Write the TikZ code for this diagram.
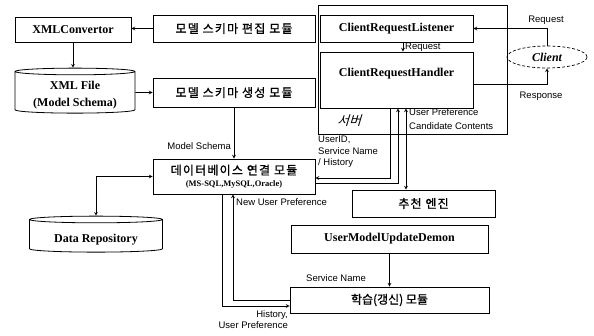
\documentclass[tikz,border=0pt]{standalone}
\usepackage{fontspec}
\setmainfont{Liberation Serif}
\setsansfont{Liberation Sans}
\newfontfamily\kr[LetterSpace=10, FakeBold=1.2]{Noto Sans CJK KR}
\newfontfamily\krtight[FakeBold=1.2]{Noto Sans CJK KR}
\newfontfamily\krsl[FakeSlant=0.3]{Noto Sans CJK KR}
\usetikzlibrary{shapes,arrows,positioning}

\begin{document}
\begin{tikzpicture}[x=1pt, y=-1pt,
    box/.style={rectangle, draw, line width=0.8pt, inner sep=0pt, font=\fontsize{12}{14}\selectfont\bfseries},
    kbox/.style={rectangle, draw, line width=0.8pt, inner sep=0pt, align=center, font=\fontsize{12}{14}\selectfont\kr},
    dbcyl/.style={cylinder, shape border rotate=90, aspect=0.08, draw, line width=0.8pt, inner sep=0pt, align=center, font=\fontsize{12}{17}\selectfont\bfseries},
    lbl/.style={inner sep=0pt, font=\fontsize{9.5}{11.5}\selectfont\sffamily},
    arrow/.style={->, >=stealth, line width=0.7pt}
]
\useasboundingbox (0,0) rectangle (594,335);

\node[box, minimum width=116pt, minimum height=25pt] (conv) at (73,29.5) {XMLConvertor};
\node[kbox, minimum width=162pt, minimum height=27pt] (edit) at (234,28.5) {모델 스키마 편집 모듈};
\node[dbcyl, minimum width=120pt, minimum height=45pt, text height=30pt] (xmlfile) at (75,92.5) {XML File\\(Model Schema)};
\node[kbox, minimum width=162pt, minimum height=29pt] (gen) at (234,92.5) {모델 스키마 생성 모듈};

\node[rectangle, draw, line width=0.8pt, minimum width=189pt, minimum height=129pt] (server) at (412.5,69.5) {};
\node[box, minimum width=153pt, minimum height=27pt] (listener) at (396.5,28.5) {ClientRequestListener};
\node[box, minimum width=153pt, minimum height=56pt, text height=8pt, text depth=16pt] (handler) at (396.5,80) {ClientRequestHandler};
\node[inner sep=0pt, font=\fontsize{13}{15}\selectfont\krsl] (servername) at (349,121) {서버};
\node[ellipse, draw, densely dashed, line width=0.7pt, minimum width=80pt, minimum height=22pt, inner sep=0pt, font=\fontsize{12}{14}\selectfont\bfseries\itshape] (client) at (547,57) {Client};

\node[kbox, minimum width=162pt, minimum height=35pt] (dbmod) at (234,176.5) {데이터베이스 연결 모듈\\[-2pt]{\rmfamily\bfseries\fontsize{8.5}{10}\selectfont (MS-SQL,MySQL,Oracle)}};
\node[dbcyl, minimum width=133pt, minimum height=36pt, text height=16pt] (repo) at (96,236) {Data Repository};
\node[kbox, minimum width=143pt, minimum height=27pt] (engine) at (423.5,203.5) {추천 엔진};
\node[box, minimum width=197pt, minimum height=28pt] (demon) at (389.5,239) {UserModelUpdateDemon};
\node[kbox, minimum width=199pt, minimum height=26pt, font=\fontsize{12}{14}\selectfont\krtight] (learn) at (389.5,300) {학습(갱신) 모듈};

\coordinate (xa) at (390,0);
\coordinate (xb) at (398,0);
\coordinate (xc) at (406,0);
\coordinate (xd) at (403,0);
\coordinate (xg) at (222,0);
\coordinate (xh) at (233,0);
\coordinate (ya) at (0,178);
\coordinate (yb) at (0,183);
\coordinate (yc) at (0,306);
\coordinate (yd) at (0,300);

\draw[arrow] (edit.west) -- (edit.west -| conv.east);
\draw[arrow] (conv.south) -- (conv.south |- xmlfile.north);
\draw[arrow] (xmlfile) -- (gen);
\draw[arrow] (gen) -- (dbmod);
\draw[arrow] (listener.south -| xd) -- (xd |- handler.north);
\draw[arrow] (client.north) |- (listener.east);
\draw[arrow] ([yshift=-4pt]handler.east) -| (client.south);
\draw[arrow] (handler.south -| xa) |- (dbmod.east |- ya);
\draw[arrow] (dbmod.east |- yb) -| (handler.south -| xb);
\draw[arrow, <->] (handler.south -| xc) -- (engine.north -| xc);
\draw[arrow, <->] (dbmod.west) -| (repo.north);
\draw[arrow] (learn.west |- yd) -| (dbmod.south -| xh);
\draw[arrow] (dbmod.south -| xg) |- (learn.west |- yc);
\draw[arrow] (demon) -- (learn);

\node[lbl, anchor=east] (lschema) at (231,146) {Model Schema};
\node[lbl, anchor=west] (lreq) at (405,47) {Request};
\node[lbl] (lreqc) at (546,20) {Request};
\node[lbl] (lresp) at (541,96) {Response};
\node[lbl, anchor=north west, align=left] (luser) at (318,136) {UserID,\\Service Name\\/ History};
\node[lbl, anchor=west, align=left, font=\fontsize{9.5}{14}\selectfont\sffamily] (lpref) at (409,119) {User Preference\\Candidate Contents};
\node[lbl, anchor=west] (lnew) at (236,202) {New User Preference};
\node[lbl] (lsvc) at (336,278) {Service Name};
\node[lbl, anchor=north east, align=right] (lhist) at (288,310) {History,\\User Preference};
\end{tikzpicture}
\end{document}
